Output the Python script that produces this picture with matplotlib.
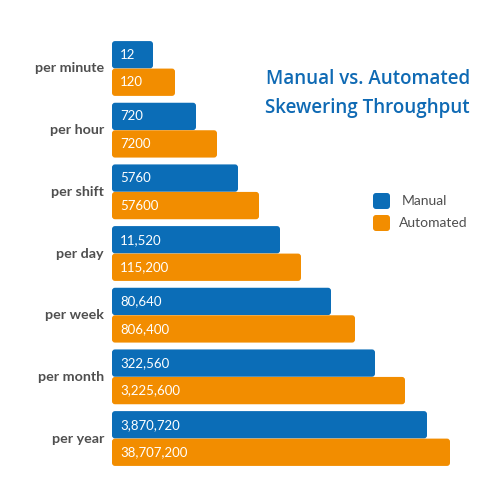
import numpy as np
import matplotlib.pyplot as plt
from matplotlib.patches import FancyBboxPatch

categories = ['per minute', 'per hour', 'per shift', 'per day',
              'per week', 'per month', 'per year']
manual = ['12', '720', '5760', '11,520', '80,640', '322,560', '3,870,720']
automated = ['120', '7200', '57600', '115,200', '806,400', '3,225,600', '38,707,200']
# drawn bar lengths (the infographic uses a stepped, not proportional, scale)
manual_len = [41, 84, 126, 168, 219, 263, 315]
automated_len = [63, 105, 147, 189, 243, 293, 338]

blue = '#0b6db7'
orange = '#f28d00'
grey = '#4f4f4f'
font = 'Lato'

fig = plt.figure(figsize=(5, 5), dpi=100)
ax = fig.add_axes([0.224, 0.0613, 0.776, 0.8634])
ax.set_xlim(0, 388)
ax.set_ylim(6.5, -0.5)
ax.axis('off')

h = 0.443
off = 0.223
asp = 1 / 61.7
y = np.arange(len(categories))
for i in y:
    for val, ln, col, dy in [(manual[i], manual_len[i], blue, -off),
                             (automated[i], automated_len[i], orange, off)]:
        p = FancyBboxPatch((0, i + dy - h / 2), ln, h,
                           boxstyle='round,pad=0,rounding_size=3',
                           mutation_aspect=asp, fc=col, ec='none')
        ax.add_patch(p)
        ax.text(8, i + dy, val, color='white', fontsize=9.5, va='center',
                ha='left', family=font)
    ax.text(-8, i, categories[i], color=grey, fontsize=10.3, fontweight='bold',
            va='center', ha='right', family=font)

fig.text(0.94, 1 - 79 / 500, 'Manual vs. Automated', color='#0f6ab4',
         fontsize=13.5, fontweight='semibold', ha='right', va='center', family='Open Sans')
fig.text(0.94, 1 - 108 / 500, 'Skewering Throughput', color='#0f6ab4',
         fontsize=13.5, fontweight='semibold', ha='right', va='center', family='Open Sans')

for yy, lab, col, tx in [(201, 'Manual', blue, 402), (223, 'Automated', orange, 399)]:
    fig.patches.append(FancyBboxPatch((373 / 500, 1 - (yy + 8) / 500), 17 / 500, 16 / 500,
                                      boxstyle='round,pad=0,rounding_size=0.006',
                                      fc=col, ec='none', transform=fig.transFigure, figure=fig))
    fig.text(tx / 500, 1 - yy / 500, lab, color=grey, fontsize=10, ha='left',
             va='center', family=font)

fig.savefig('out.png', dpi=100)
